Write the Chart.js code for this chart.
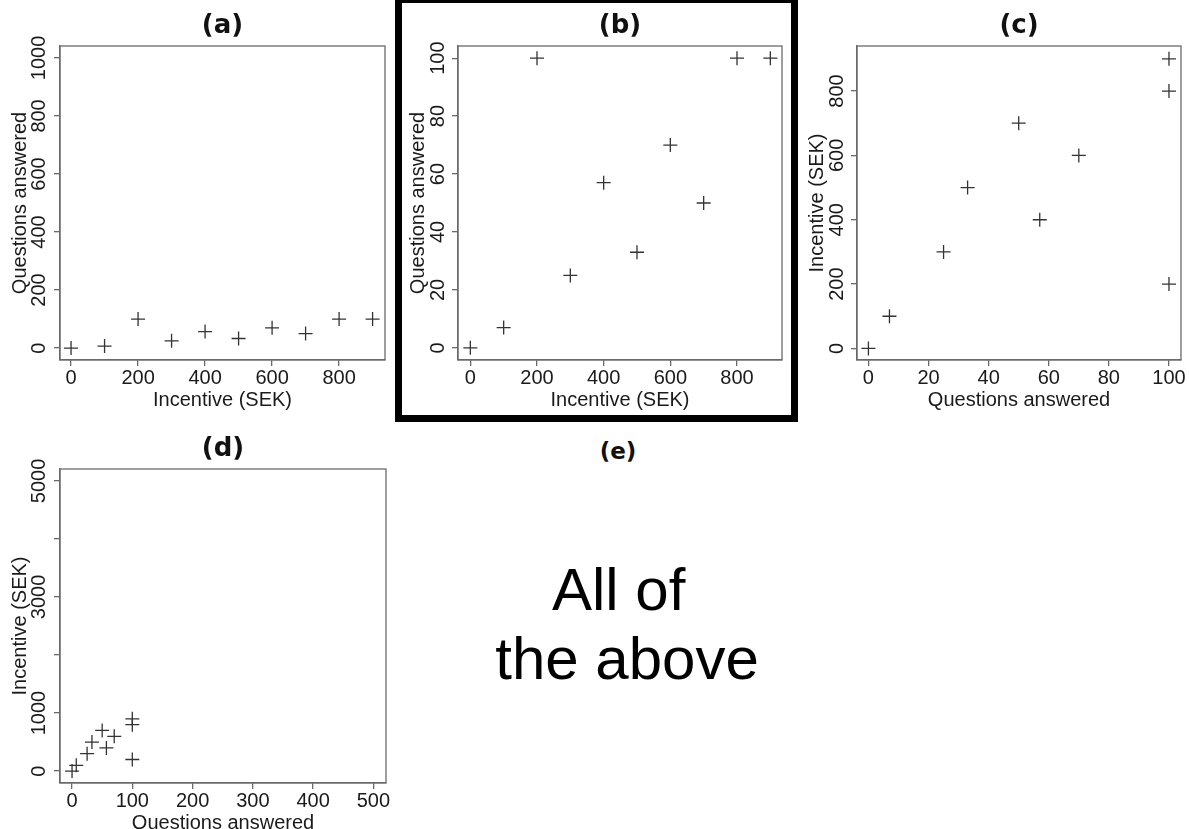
<!DOCTYPE html>
<html>
<head>
<meta charset="utf-8">
<script src="https://cdn.jsdelivr.net/npm/chart.js@4.4.1/dist/chart.umd.min.js"></script>
<style>
  html, body { margin: 0; padding: 0; background: #fff; overflow: hidden; }
  body { width: 1189px; height: 829px; position: relative; }
  canvas { position: absolute; }
  #frameB {
    position: absolute; left: 395px; top: -4px; width: 403px; height: 426px;
    border: 7px solid #000; box-sizing: border-box;
  }
  #titleE {
    position: absolute; left: 568px; top: 438px; width: 100px; line-height: 28px;
    text-align: center; font: bold 23px "DejaVu Sans", sans-serif; color: #111;
  }
  #answerE {
    position: absolute; left: 427px; top: 555px; width: 400px; line-height: 74px;
    text-align: center; white-space: pre; font: 60px "Liberation Sans", Arial, sans-serif; color: #000;
  }
</style>
</head>
<body>
<canvas id="chartA" width="395" height="412" style="left:0px;top:0px"></canvas>
<canvas id="chartB" width="394" height="412" style="left:398px;top:0px"></canvas>
<canvas id="chartC" width="394" height="412" style="left:797px;top:0px"></canvas>
<canvas id="chartD" width="396" height="412" style="left:0px;top:423px"></canvas>
<div id="frameB"></div>
<div id="titleE">(e)</div>
<div id="answerE">All of&#160;
the above</div>
<script>
// survey data: incentive paid vs. number of questions answered
const incentive = [0, 100, 200, 300, 400, 500, 600, 700, 800, 900];
const answered = [0, 7, 100, 25, 57, 33, 70, 50, 100, 100];

// tick values per panel
const incentiveTicks = [0, 200, 400, 600, 800];
const answeredTicks1000 = [0, 200, 400, 600, 800, 1000];
const answeredTicks100 = [0, 20, 40, 60, 80, 100];
const answeredTicks500 = [0, 100, 200, 300, 400, 500];
const incentiveTicks5000 = [0, 1000, 2000, 3000, 4000, 5000];
const incentiveLabels5000 = ["0", "1000", "", "3000", "", "5000"];

const AXIS = "#6a6a6a";
const TEXT = "#1a1a1a";
const MARK = "#333333";

Chart.defaults.font.family = '"Liberation Sans", Arial, sans-serif';

// box round the plot region, like the Stata graph
const framePlugin = {
  id: "frame",
  beforeDatasetsDraw(chart) {
    const { ctx, chartArea: a } = chart;
    ctx.save();
    ctx.strokeStyle = AXIS;
    ctx.lineWidth = 1.3;
    ctx.strokeRect(a.left, a.top, a.right - a.left, a.bottom - a.top);
    ctx.restore();
  }
};

function makePanel(id, p) {
  const ctx = document.getElementById(id).getContext("2d");
  const points = p.xs.map((x, i) => ({ x: x, y: p.ys[i] }));
  const tickFont = { size: 20 };

  return new Chart(ctx, {
    type: "scatter",
    data: {
      datasets: [{
        data: points,
        pointStyle: "cross",
        pointRadius: 7,
        pointHoverRadius: 7,
        borderColor: MARK,
        borderWidth: 1.3
      }]
    },
    options: {
      responsive: false,
      animation: false,
      events: [],
      layout: { padding: { left: 0, right: 10, top: 0, bottom: 0 } },
      plugins: {
        legend: { display: false },
        tooltip: { enabled: false },
        title: {
          display: true,
          text: p.title,
          fullSize: false,
          color: "#111",
          font: { family: '"DejaVu Sans", sans-serif', size: 26, weight: "bold" },
          padding: { top: 10.8, bottom: 4 }
        }
      },
      scales: {
        x: {
          type: "linear",
          min: p.xMin,
          max: p.xMax,
          afterBuildTicks: s => { s.ticks = p.xTicks.map(v => ({ value: v })); },
          afterFit: s => { s.height = 52; },
          grid: { drawOnChartArea: false, tickLength: 6, color: AXIS, lineWidth: 1.3 },
          border: { color: AXIS, width: 1.3 },
          ticks: {
            font: tickFont, color: TEXT, padding: 0, maxRotation: 0, autoSkip: false,
            callback: v => String(v)
          },
          title: { display: true, text: p.xTitle, color: TEXT, font: { size: 20 }, padding: 0 }
        },
        y: {
          type: "linear",
          min: p.yMin,
          max: p.yMax,
          afterBuildTicks: s => { s.ticks = p.yTicks.map(v => ({ value: v })); },
          afterFit: s => { s.width = 60; },
          grid: { drawOnChartArea: false, tickLength: 6, color: AXIS, lineWidth: 1.3 },
          border: { color: AXIS, width: 1.3 },
          ticks: {
            font: tickFont, color: TEXT, autoSkip: false,
            minRotation: 90, maxRotation: 90, crossAlign: "center", padding: p.yPad,
            callback: (v, i) => p.yLabels ? p.yLabels[i] : String(v)
          },
          title: { display: true, text: p.yTitle, color: TEXT, font: { size: 20 }, padding: { top: 8, bottom: 0 } }
        }
      }
    },
    plugins: [framePlugin]
  });
}

makePanel("chartA", {
  title: "(a)", xs: incentive, ys: answered,
  xTitle: "Incentive (SEK)", yTitle: "Questions answered",
  xMin: -33, xMax: 937, yMin: -41, yMax: 1041,
  xTicks: incentiveTicks, yTicks: answeredTicks1000, yPad: -8
});

makePanel("chartB", {
  title: "(b)", xs: incentive, ys: answered,
  xTitle: "Incentive (SEK)", yTitle: "Questions answered",
  xMin: -37, xMax: 935, yMin: -4.2, yMax: 104.2,
  xTicks: incentiveTicks, yTicks: answeredTicks100, yPad: -3
});

makePanel("chartC", {
  title: "(c)", xs: answered, ys: incentive,
  xTitle: "Questions answered", yTitle: "Incentive (SEK)",
  xMin: -3.8, xMax: 104, yMin: -36, yMax: 940,
  xTicks: answeredTicks100, yTicks: incentiveTicks, yPad: -3
});

makePanel("chartD", {
  title: "(d)", xs: answered, ys: incentive,
  xTitle: "Questions answered", yTitle: "Incentive (SEK)",
  xMin: -20, xMax: 521, yMin: -205, yMax: 5205,
  xTicks: answeredTicks500, yTicks: incentiveTicks5000, yLabels: incentiveLabels5000, yPad: -8
});
</script>
</body>
</html>
